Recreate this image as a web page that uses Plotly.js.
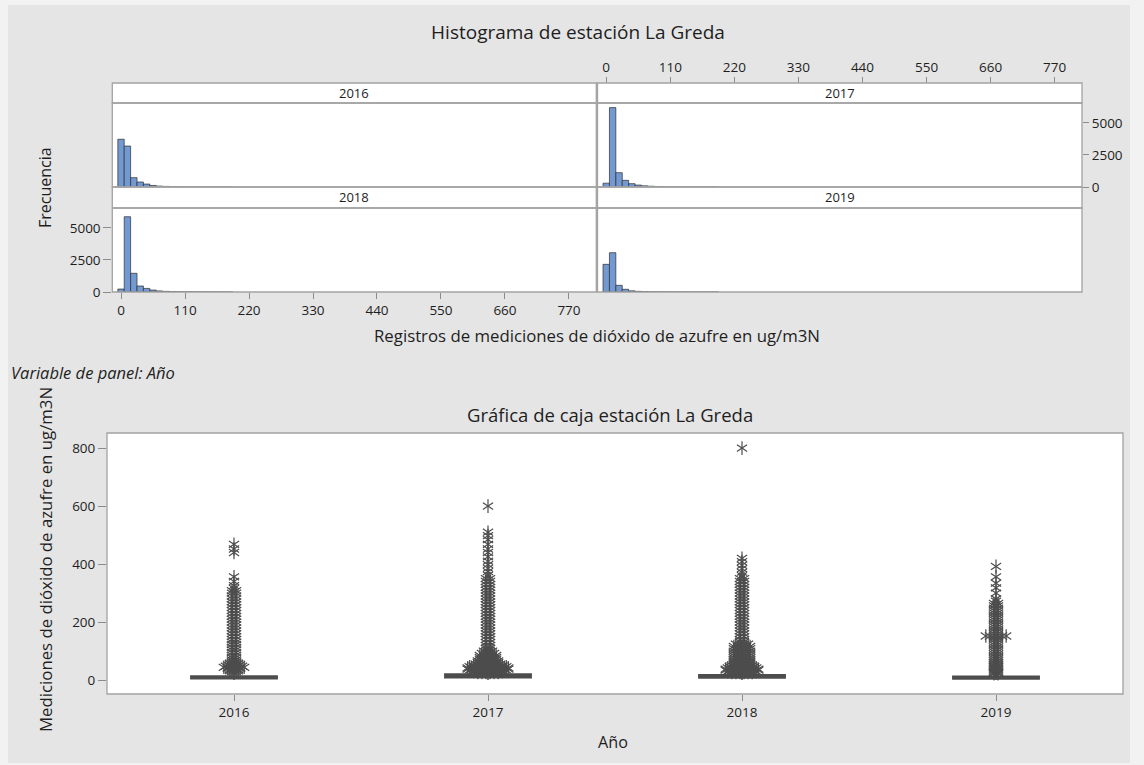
<!DOCTYPE html>
<html><head><meta charset="utf-8">
<script src="https://cdn.plot.ly/plotly-3.0.1.min.js"></script>
<style>html,body{margin:0;padding:0;background:#f2f2f2;} #chart{width:1144px;height:765px;}</style>
</head><body><div id="chart"></div>
<script>
// ---------- data ----------
const years = ['2016', '2017', '2018', '2019'];
const binMids = [0, 11, 22, 33, 44, 55, 66, 77, 88, 99, 110, 121, 132, 143, 154, 165, 176, 187];
const hist2016 = [3730, 3200, 730, 390, 230, 120, 70, 45, 30, 20, 14, 10, 7, 5, 4, 3, 2, 2];
const hist2017 = [300, 6200, 1120, 520, 260, 150, 90, 60, 40, 25, 16, 11, 8, 6, 4, 3, 2, 2];
const hist2018 = [230, 5880, 1460, 470, 280, 150, 85, 50, 30, 20, 14, 10, 7, 5, 4, 3, 2, 2];
const hist2019 = [2160, 3070, 520, 210, 90, 50, 30, 18, 12, 8, 6, 4, 3, 2, 2, 1, 1, 1];
const histTicks = [0, 110, 220, 330, 440, 550, 660, 770];
const freqTicks = [0, 2500, 5000];

const boxQ1 = [5, 8, 7, 4];
const boxMedian = [8, 13, 12, 7];
const boxQ3 = [14, 21, 18, 13];
const boxLower = [0, 0, 0, 0];
const boxUpper = [27, 38, 34, 26];
const boxTicks = [0, 200, 400, 600, 800];

const out2016Values = [28, 32, 36, 40, 44, 48, 52, 57, 63, 70, 78, 86, 95, 104, 113, 122, 131, 140, 150, 160, 170, 180, 190, 200, 210, 220, 230, 240, 250, 260, 270, 280, 290, 300, 308, 316, 326, 340, 356, 440, 452, 468];
const out2016Ties   = [2, 3, 3, 4, 6, 5, 4, 3, 2, 2, 2, 2, 2, 2, 2, 2, 2, 2, 2, 2, 2, 2, 2, 2, 2, 2, 2, 2, 2, 2, 2, 2, 2, 2, 2, 1, 1, 1, 1, 1, 1, 1];
const out2017Values = [26, 30, 34, 38, 42, 46, 50, 55, 60, 66, 72, 78, 85, 92, 100, 110, 120, 130, 140, 150, 160, 170, 180, 190, 200, 210, 220, 230, 240, 250, 260, 270, 280, 290, 300, 310, 320, 330, 340, 350, 362, 374, 386, 398, 410, 425, 440, 452, 468, 484, 498, 510, 600];
const out2017Ties   = [6, 8, 10, 11, 11, 10, 8, 7, 6, 6, 5, 5, 5, 4, 3, 2, 2, 2, 2, 2, 2, 2, 2, 2, 2, 2, 2, 2, 2, 2, 2, 2, 2, 2, 2, 2, 2, 2, 2, 2, 1, 1, 1, 1, 1, 1, 1, 1, 1, 1, 1, 1, 1];
const out2018Values = [26, 30, 34, 38, 42, 46, 50, 55, 60, 66, 72, 78, 85, 92, 100, 108, 116, 124, 132, 140, 150, 160, 170, 180, 190, 200, 210, 220, 230, 240, 250, 260, 270, 280, 290, 300, 310, 320, 330, 340, 350, 360, 372, 384, 396, 408, 420, 800];
const out2018Ties   = [6, 8, 9, 9, 8, 7, 6, 5, 5, 5, 5, 5, 5, 5, 5, 5, 5, 4, 2, 2, 2, 2, 2, 2, 2, 2, 2, 2, 2, 2, 2, 2, 2, 2, 2, 2, 2, 2, 2, 2, 2, 1, 1, 1, 1, 1, 1, 1];
const out2019Values = [22, 26, 30, 34, 38, 42, 46, 50, 56, 62, 68, 75, 82, 90, 98, 106, 114, 122, 130, 138, 146, 152, 160, 168, 176, 184, 192, 200, 208, 216, 224, 232, 240, 248, 256, 264, 272, 280, 300, 318, 334, 356, 392];
const out2019Ties   = [2, 2, 2, 2, 2, 2, 2, 2, 2, 2, 2, 2, 2, 2, 2, 2, 2, 2, 2, 2, 2, 6, 2, 2, 2, 2, 2, 2, 2, 2, 2, 2, 2, 2, 2, 2, 1, 1, 1, 1, 1, 1, 1];

// ---------- helpers ----------
const W = 1144, H = 765;
const px = v => v / W;
const py = v => 1 - v / H;
const FONT = '"Open Sans", "Noto Sans", sans-serif';
const TXT = '#1e1e1e';
const GRID = '#a3a3a3';
const BAR = '#7299d1';
const DARK = '#4d4d4d';

const tieStep = 0.016;
const ox = [], oy = [];
[[out2016Values, out2016Ties], [out2017Values, out2017Ties], [out2018Values, out2018Ties], [out2019Values, out2019Ties]]
  .forEach(([vals, ties], idx) => {
    vals.forEach((v, i) => {
      const n = ties[i];
      for (let k = 0; k < n; k++) { ox.push(idx + (k - (n - 1) / 2) * tieStep); oy.push(v); }
    });
  });

function histTrace(counts, xa, ya) {
  return { type: 'bar', x: binMids, y: counts, width: 11, xaxis: xa, yaxis: ya,
    marker: { color: BAR, line: { color: '#2e2e2e', width: 0.7 } }, hoverinfo: 'x+y', showlegend: false };
}

const data = [
  histTrace(hist2016, 'x', 'y'),
  histTrace(hist2017, 'x2', 'y2'),
  histTrace(hist2018, 'x3', 'y3'),
  histTrace(hist2019, 'x4', 'y4'),
  { type: 'box', x: [0, 1, 2, 3], q1: boxQ1, median: boxMedian, q3: boxQ3,
    lowerfence: boxLower, upperfence: boxUpper, width: 0.34, boxpoints: false,
    fillcolor: DARK, line: { color: DARK, width: 1.5 }, whiskerwidth: 0,
    xaxis: 'x5', yaxis: 'y5', showlegend: false },
  { type: 'scatter', mode: 'markers', x: ox, y: oy, xaxis: 'x5', yaxis: 'y5', showlegend: false,
    marker: { symbol: 'y-up-open', size: 8.5, color: DARK, line: { width: 1.2 } }, hoverinfo: 'y' },
  { type: 'scatter', mode: 'markers', x: ox, y: oy, xaxis: 'x5', yaxis: 'y5', showlegend: false,
    marker: { symbol: 'y-down-open', size: 8.5, color: DARK, line: { width: 1.2 } }, hoverinfo: 'y' }
];

const tickFont = { family: FONT, size: 13.5, color: TXT };
const L0 = 112.3, L1 = 596.3, R0 = 597.5, R1 = 1082;
const leftDom = [px(L0), px(L1)];
const rightDom = [px(R0), px(R1)];
const topDom = [py(187), py(103)];
const botDom = [py(292), py(208)];
const baseX = { range: [-15, 817], tick0: 0, tickvals: histTicks, showgrid: false, zeroline: false,
  showline: false, ticks: '', showticklabels: false, fixedrange: true };
const baseY = { range: [0, 6560], tickvals: freqTicks, showgrid: false, zeroline: false,
  showline: false, ticks: '', showticklabels: false, fixedrange: true };
const tickOn = { ticks: 'outside', ticklen: 6, tickcolor: '#8c8c8c', tickwidth: 1, showticklabels: true, tickfont: tickFont };

function rect(x0, y0, x1, y1, fill, layer, lw) {
  return { type: 'rect', xref: 'paper', yref: 'paper', x0: px(x0), x1: px(x1), y0: py(y0), y1: py(y1),
    fillcolor: fill || 'rgba(0,0,0,0)', line: { color: GRID, width: lw === undefined ? 1.3 : lw }, layer: layer || 'above' };
}
function ann(text, x, y, size, opts) {
  return Object.assign({ text: text, xref: 'paper', yref: 'paper', x: px(x), y: py(y), showarrow: false,
    xanchor: 'center', yanchor: 'middle', font: { family: FONT, size: size, color: TXT } }, opts || {});
}

const layout = {
  width: W, height: H, margin: { l: 0, r: 0, t: 0, b: 0 },
  paper_bgcolor: '#f2f2f2', plot_bgcolor: '#ffffff', bargap: 0, showlegend: false,
  font: { family: FONT, color: TXT },
  title: { text: 'Histograma de estación La Greda', x: px(578), y: py(32), xanchor: 'center', yanchor: 'middle',
    font: { family: FONT, size: 19, color: TXT } },
  xaxis: Object.assign({}, baseX, { domain: leftDom, anchor: 'y' }),
  yaxis: Object.assign({}, baseY, { domain: topDom, anchor: 'x' }),
  xaxis2: Object.assign({}, baseX, tickOn, { domain: rightDom, anchor: 'free', position: py(83), side: 'top' }),
  yaxis2: Object.assign({}, baseY, tickOn, { domain: topDom, anchor: 'x2', side: 'right' }),
  xaxis3: Object.assign({}, baseX, tickOn, { domain: leftDom, anchor: 'y3' }),
  yaxis3: Object.assign({}, baseY, tickOn, { domain: botDom, anchor: 'x3', ticklen: 8 }),
  xaxis4: Object.assign({}, baseX, { domain: rightDom, anchor: 'y4' }),
  yaxis4: Object.assign({}, baseY, { domain: botDom, anchor: 'x4' }),
  xaxis5: { domain: [px(107), px(1123)], anchor: 'y5', range: [-0.5, 3.5], tickvals: [0, 1, 2, 3], ticktext: years,
    showgrid: false, zeroline: false, showline: false, ticks: 'outside', ticklen: 6, tickcolor: '#8c8c8c', tickfont: tickFont, fixedrange: true },
  yaxis5: { domain: [py(694), py(433)], anchor: 'x5', range: [-48, 852], tickvals: boxTicks,
    showgrid: false, zeroline: false, showline: false, ticks: 'outside', ticklen: 8, tickcolor: '#8c8c8c', tickfont: tickFont, fixedrange: true },
  shapes: [
    rect(8, 5, 1130, 763, '#e5e5e5', 'below', 0),
    // white plot backgrounds
    rect(L0, 103, L1, 187, '#ffffff', 'below', 0),
    rect(R0, 103, R1, 187, '#ffffff', 'below', 0),
    rect(L0, 208, L1, 292, '#ffffff', 'below', 0),
    rect(R0, 208, R1, 292, '#ffffff', 'below', 0),
    rect(107, 433, 1123, 694, '#ffffff', 'below', 0),
    // strips
    rect(L0, 83, L1, 103, '#ffffff'),
    rect(R0, 83, R1, 103, '#ffffff'),
    rect(L0, 187, L1, 208, '#ffffff'),
    rect(R0, 187, R1, 208, '#ffffff'),
    // panel borders
    rect(L0, 103, L1, 187),
    rect(R0, 103, R1, 187),
    rect(L0, 208, L1, 292),
    rect(R0, 208, R1, 292),
    rect(107, 433, 1123, 694)
  ],
  annotations: [
    ann(years[0], 354, 93, 13), ann(years[1], 840, 93, 13),
    ann(years[2], 354, 197.5, 13), ann(years[3], 840, 197.5, 13),
    ann('Frecuencia', 45, 188, 16, { textangle: -90 }),
    ann('Registros de mediciones de dióxido de azufre en ug/m3N', 597, 335, 16.8),
    ann('<i>Variable de panel: Año</i>', 9, 372, 16.5, { xanchor: 'left' }),
    ann('Gráfica de caja estación La Greda', 610, 414, 18.5),
    ann('Mediciones de dióxido de azufre en ug/m3N', 45, 560, 16.8, { textangle: -90 }),
    ann('Año', 613, 742, 16.2)
  ]
};

Plotly.newPlot('chart', data, layout, { displayModeBar: false, staticPlot: true });
</script></body></html>
